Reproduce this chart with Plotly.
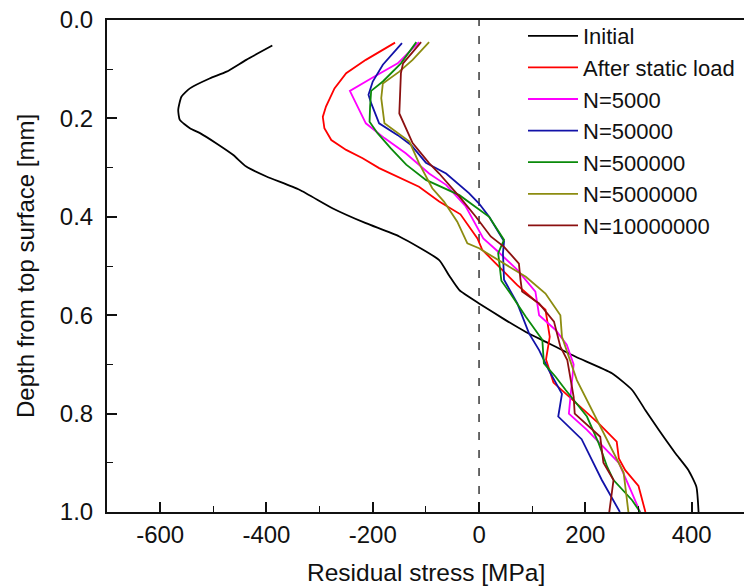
import plotly.graph_objects as go

# ---------------- data ----------------
initial_depth = [0.052,0.081,0.105,0.119,0.139,0.156,0.183,0.203,0.22,0.23,0.251,0.274,0.298,0.318,0.345,0.383,0.413,0.44,0.488,0.52,0.549,0.576,0.61,0.634,0.657,0.684,0.718,0.752,0.793,0.833,0.88,0.915,0.949,1.0]
initial_val = [-389,-438,-475,-507,-544,-560,-566,-563,-544,-525,-494,-463,-438,-400,-338,-275,-213,-150,-75,-56,-37,0,50,88,131,181,250,288,313,338,369,394,409,413]

static_depth = [0.046,0.081,0.108,0.139,0.176,0.197,0.22,0.244,0.264,0.281,0.301,0.32,0.339,0.369,0.395,0.444,0.467,0.501,0.539,0.589,0.644,0.69,0.737,0.82,0.857,0.891,0.915,0.947,1.0]
static_val = [-158,-213,-250,-272,-288,-294,-291,-278,-250,-219,-188,-150,-113,-75,-35,-3,6,37,72,125,133,126,140,225,259,263,275,300,313]

n5000_depth = [0.045,0.088,0.117,0.144,0.21,0.24,0.271,0.295,0.312,0.335,0.379,0.444,0.47,0.508,0.552,0.6,0.63,0.66,0.70,0.766,0.8,0.833,0.9,0.962,1.0]
n5000_val = [-113,-153,-200,-243,-213,-178,-138,-113,-94,-62,-25,8,35,72,106,113,144,165,178,172,169,203,263,288,303]

n50000_depth = [0.047,0.091,0.125,0.152,0.169,0.21,0.234,0.254,0.29,0.312,0.352,0.373,0.4,0.45,0.474,0.528,0.576,0.637,0.671,0.711,0.76,0.806,0.852,0.935,1.0]
n50000_val = [-145,-181,-200,-208,-203,-188,-153,-128,-100,-62,-19,0,19,47,45,47,72,94,113,131,156,149,193,231,265]

n500000_depth = [0.045,0.088,0.125,0.144,0.176,0.207,0.23,0.261,0.294,0.325,0.356,0.386,0.4,0.447,0.474,0.53,0.556,0.603,0.65,0.698,0.725,0.752,0.806,0.86,0.908,0.935,0.976,1.0]
n500000_val = [-118,-147,-181,-203,-205,-206,-191,-166,-137,-100,-37,0,19,47,36,42,59,88,119,122,144,163,203,225,241,253,288,303]

n5000000_depth = [0.045,0.081,0.105,0.129,0.159,0.21,0.247,0.291,0.342,0.369,0.41,0.454,0.464,0.522,0.556,0.6,0.644,0.677,0.732,0.92,1.0]
n5000000_val = [-94,-125,-150,-181,-184,-178,-131,-113,-88,-66,-41,-22,0,88,125,153,156,166,184,272,281]

n10000000_depth = [0.045,0.088,0.108,0.19,0.25,0.291,0.312,0.359,0.4,0.44,0.461,0.495,0.528,0.552,0.576,0.613,0.664,0.691,0.766,0.8,0.847,0.9,0.935,1.0]
n10000000_val = [-109,-143,-147,-150,-125,-94,-75,-37,-6,22,47,75,78,81,113,141,153,166,178,180,228,234,253,245]

series_names = ["Initial", "After static load", "N=5000", "N=50000", "N=500000", "N=5000000", "N=10000000"]
series_colors = ["#000000", "#FF0000", "#FF00FF", "#1212A8", "#0A8A0A", "#8C8C10", "#8B1010"]

x_ticks = [-600, -400, -200, 0, 200, 400]
x_tick_labels = ["-600", "-400", "-200", "0", "200", "400"]
y_ticks = [0.0, 0.2, 0.4, 0.6, 0.8, 1.0]
y_tick_labels = ["0.0", "0.2", "0.4", "0.6", "0.8", "1.0"]

x_title = "Residual stress [MPa]"
y_title = "Depth from top surface [mm]"

# ---------------- figure ----------------
FONT = "Liberation Sans, Arial, sans-serif"
L, T, B = 107, 20, 75
PW, PH = 744 - L, 587 - T - B

fig = go.Figure()

all_series = [
    (initial_val, initial_depth),
    (static_val, static_depth),
    (n5000_val, n5000_depth),
    (n50000_val, n50000_depth),
    (n500000_val, n500000_depth),
    (n5000000_val, n5000000_depth),
    (n10000000_val, n10000000_depth),
]
for i, (xv, yv) in enumerate(all_series):
    fig.add_trace(go.Scatter(
        x=xv, y=yv, mode="lines", name=series_names[i],
        line=dict(color=series_colors[i], width=1.8,
                  shape="spline" if i == 0 else "linear", smoothing=0.5),
    ))

fig.add_shape(type="line", xref="x", yref="paper", x0=0, x1=0, y0=0, y1=1,
              line=dict(color="#444444", width=1.6, dash="8px,10px"), layer="below")

fig.add_annotation(text=x_title, xref="paper", yref="paper", x=0.5, y=(512 - 572) / PH,
                   xanchor="center", yanchor="middle", showarrow=False,
                   font=dict(family=FONT, size=24.5, color="#111111"))
fig.add_annotation(text=y_title, xref="paper", yref="paper", x=(25 - L) / PW, y=0.5,
                   xanchor="center", yanchor="middle", showarrow=False, textangle=-90,
                   font=dict(family=FONT, size=24, color="#111111"))

fig.update_layout(
    width=744, height=587,
    margin=dict(l=L, r=0, t=T, b=B, autoexpand=False),
    paper_bgcolor="white", plot_bgcolor="white",
    font=dict(family=FONT, size=24, color="#111111"),
    showlegend=True,
    legend=dict(
        x=(523 - L) / PW, y=(512 - 15) / PH, xanchor="left", yanchor="top",
        bgcolor="rgba(0,0,0,0)", borderwidth=0,
        font=dict(family=FONT, size=22, color="#111111"),
        itemwidth=50, tracegroupgap=0,
    ),
    xaxis=dict(
        range=[-700, 498.5], tickvals=x_ticks, ticktext=x_tick_labels,
        ticks="inside", ticklen=10, tickwidth=1.6, tickcolor="#111111",
        minor=dict(dtick=100, tick0=0, ticks="inside", ticklen=6, tickwidth=1.4, tickcolor="#111111"),
        showline=True, linecolor="#111111", linewidth=2, mirror=True,
        showgrid=False, zeroline=False, automargin=False,
        ticklabelstandoff=0, tickfont=dict(family=FONT, size=24, color="#111111"),
    ),
    yaxis=dict(
        range=[1.0, 0.0], tickvals=y_ticks, ticktext=y_tick_labels,
        ticks="inside", ticklen=10, tickwidth=1.6, tickcolor="#111111",
        minor=dict(dtick=0.1, tick0=0, ticks="inside", ticklen=6, tickwidth=1.4, tickcolor="#111111"),
        showline=True, linecolor="#111111", linewidth=2, mirror=False,
        showgrid=False, zeroline=False, automargin=False,
        ticklabelstandoff=7, tickfont=dict(family=FONT, size=24, color="#111111"),
    ),
)

fig.write_html("out.html", config={"displayModeBar": False},
               post_script="document.body.style.margin='0';")
